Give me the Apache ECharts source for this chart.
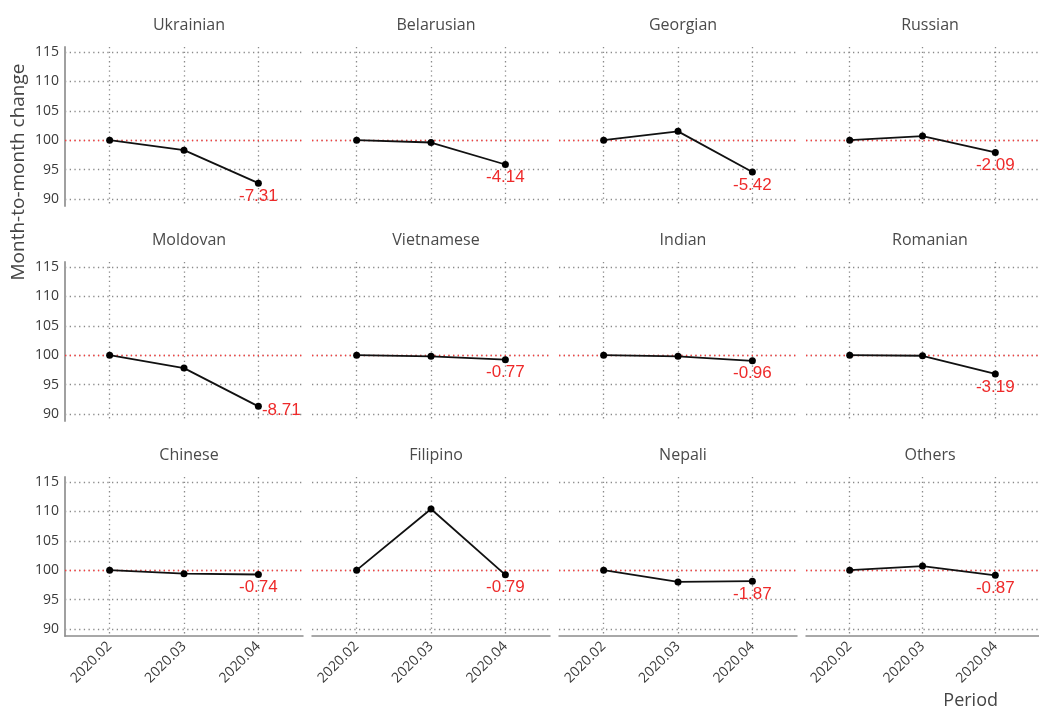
<!DOCTYPE html>
<html>
<head>
<meta charset="utf-8">
<script src="https://cdn.jsdelivr.net/npm/echarts@6/dist/echarts.min.js"></script>
<style>
  html, body { margin: 0; padding: 0; background: #ffffff; }
  #chart { width: 1039px; height: 709px; }
</style>
</head>
<body>
<div id="chart"></div>
<script>
// Nationality panels, in reading order (4 columns x 3 rows)
const panels = ['Ukrainian', 'Belarusian', 'Georgian', 'Russian',
                'Moldovan', 'Vietnamese', 'Indian', 'Romanian',
                'Chinese', 'Filipino', 'Nepali', 'Others'];
const periods = ['2020.02', '2020.03', '2020.04'];
// Index values (February = 100)
const febValues = [100, 100, 100, 100, 100, 100, 100, 100, 100, 100, 100, 100];
const marValues = [98.3, 99.6, 101.5, 100.7, 97.8, 99.8, 99.8, 99.9, 99.4, 110.4, 98.0, 100.7];
// April change versus February, in points
const aprChange = [-7.31, -4.14, -5.42, -2.09, -8.71, -0.77, -0.96, -3.19, -0.74, -0.79, -1.87, -0.87];
const yTicks = [90, 95, 100, 105, 110, 115];
const baseline = 100;

const FONT = '"Open Sans", "Noto Sans", sans-serif';
const gridColor = '#8a8a8a';
const dotted = [1.3, 3.4];

const colLeft = [65, 312, 559, 806];
const rowTop = [47, 262, 477];
const gridW = 238, gridH = 159;

const grids = [], xAxes = [], yAxes = [], series = [], titles = [];

panels.forEach((name, i) => {
  const col = i % 4, row = Math.floor(i / 4);
  const isBottom = row === 2, isLeft = col === 0;
  grids.push({ left: colLeft[col], top: rowTop[row], width: gridW, height: gridH });
  titles.push({
    text: name,
    left: colLeft[col] + gridW / 2,
    top: rowTop[row] - 35,
    textAlign: 'center',
    textStyle: { fontFamily: FONT, fontSize: 16, fontWeight: 'normal', color: '#4a4a4a' }
  });
  xAxes.push({
    gridIndex: i,
    type: 'value',
    min: 0.4,
    max: 3.6,
    axisLine: { show: isBottom, onZero: false, lineStyle: { color: '#8c8c8c', width: 1.5 } },
    axisTick: { show: false, customValues: [1, 2, 3] },
    axisLabel: {
      show: isBottom,
      customValues: [1, 2, 3],
      rotate: 45,
      margin: 8,
      fontFamily: FONT,
      fontSize: 14,
      color: '#3a3a3a',
      formatter: v => periods[Math.round(v) - 1]
    },
    splitLine: { show: true, lineStyle: { color: gridColor, width: 1.3, type: dotted } }
  });
  yAxes.push({
    gridIndex: i,
    type: 'value',
    min: 88.8,
    max: 115.85,
    axisLine: { show: isLeft, lineStyle: { color: '#a0a0a0', width: 2 } },
    axisTick: { show: false, customValues: yTicks },
    axisLabel: {
      show: isLeft,
      customValues: yTicks,
      margin: 6,
      fontFamily: FONT,
      fontSize: 14,
      color: '#3a3a3a'
    },
    splitLine: { show: true, lineStyle: { color: gridColor, width: 1.3, type: dotted } }
  });
  const apr = +(baseline + aprChange[i]).toFixed(2);
  series.push({
    type: 'line',
    xAxisIndex: i,
    yAxisIndex: i,
    symbol: 'circle',
    symbolSize: 7,
    itemStyle: { color: '#000000' },
    lineStyle: { color: '#111111', width: 1.8 },
    z: 5,
    data: [
      [1, febValues[i]],
      [2, marValues[i]],
      {
        value: [3, apr],
        label: {
          show: true,
          position: name === 'Moldovan' ? 'right' : 'bottom',
          distance: name === 'Moldovan' ? 0 : 1,
          offset: name === 'Moldovan' ? [0, 4] : [0, 0],
          formatter: () => aprChange[i].toFixed(2),
          fontFamily: '"Liberation Sans", Arial, sans-serif',
          fontSize: 17,
          color: '#ee2a2a'
        }
      }
    ],
    markLine: {
      silent: true,
      symbol: 'none',
      label: { show: false },
      lineStyle: { color: '#ff3b3b', width: 1.4, type: dotted },
      z: 3,
      data: [{ yAxis: baseline }]
    }
  });
});

const chart = echarts.init(document.getElementById('chart'), null, { renderer: 'canvas' });
chart.setOption({
  backgroundColor: '#ffffff',
  animation: false,
  title: titles,
  grid: grids,
  xAxis: xAxes,
  yAxis: yAxes,
  series: series,
  graphic: [
    {
      type: 'text',
      x: 19,
      y: 172,
      rotation: Math.PI / 2,
      style: {
        text: 'Month-to-month change',
        fontFamily: FONT,
        fontSize: 19,
        fill: '#444444',
        align: 'center',
        verticalAlign: 'middle',
        textAlign: 'center',
        textVerticalAlign: 'middle'
      }
    },
    {
      type: 'text',
      right: 41,
      top: 692,
      style: {
        text: 'Period',
        fontFamily: FONT,
        fontSize: 18,
        fill: '#444444'
      }
    }
  ]
});
</script>
</body>
</html>
